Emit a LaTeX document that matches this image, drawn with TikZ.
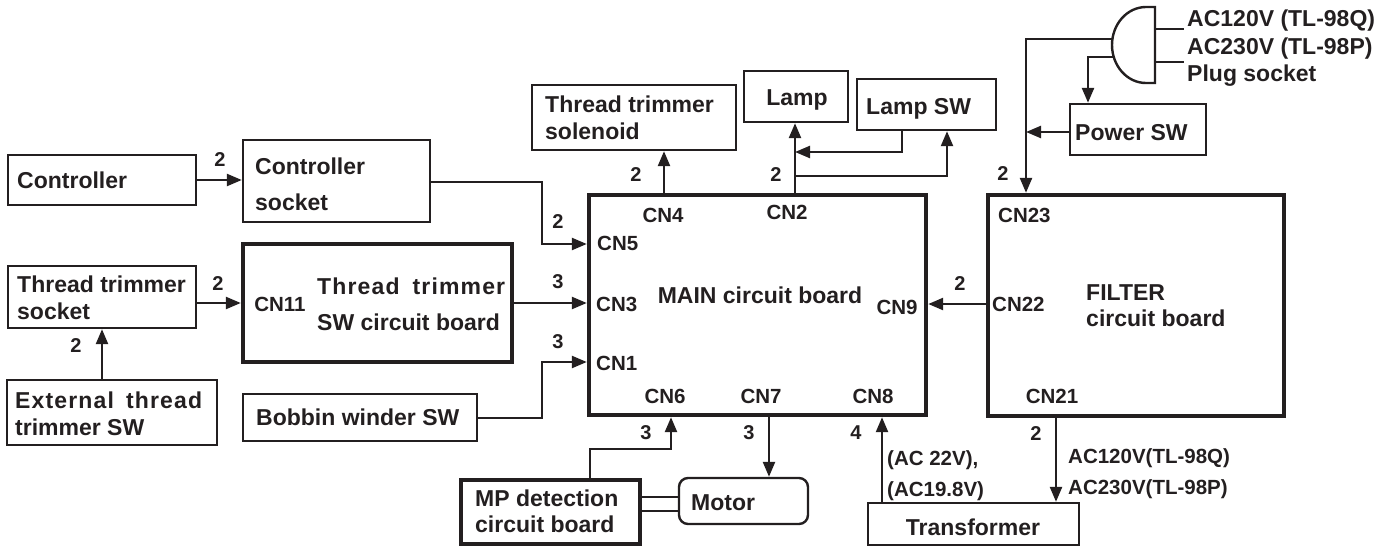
\documentclass[tikz,border=0pt]{standalone}
\usepackage{fontspec}
\setmainfont{Liberation Sans}
\usetikzlibrary{arrows.meta}
\definecolor{ink}{HTML}{231F20}
\begin{document}
\begin{tikzpicture}[x=1pt,y=-1pt,
  every node/.style={text=ink},
  box/.style={draw=ink, line width=2.4pt, inner sep=0pt},
  thick box/.style={draw=ink, line width=4.4pt, inner sep=0pt},
  lbl/.style={font=\bfseries\fontsize{23}{27}\selectfont, inner sep=0pt, text height=16.5pt, text depth=0pt},
  cn/.style={font=\bfseries\fontsize{20.5}{24}\selectfont, inner sep=0pt, text height=14.7pt, text depth=0pt},
  num/.style={font=\bfseries\fontsize{20}{24}\selectfont, inner sep=0pt, text height=14.3pt, text depth=0pt},
  wire/.style={draw=ink, line width=2.4pt},
  arr/.style={wire, -{Triangle[length=15pt,width=12pt]}}
]
\useasboundingbox (0,0) rectangle (1396,547);
\newcommand{\bx}[6]{\node[#1, minimum width=#4-#2, minimum height=#5-#3] (#6) at ({(#2+#4)/2},{(#3+#5)/2}) {};}
% thin boxes
\bx{box}{8}{155}{196}{205}{ctrl}
\bx{box}{243}{140}{430}{222}{ctrlsock}
\bx{box}{532}{85}{736}{150}{ttsol}
\bx{box}{744}{71}{848}{122}{lamp}
\bx{box}{857}{79}{996}{130}{lampsw}
\bx{box}{1070}{104}{1206}{155}{pwrsw}
\bx{box}{8}{266}{196}{328}{ttsock}
\bx{box}{7}{380}{217}{445}{ext}
\bx{box}{243}{394}{477}{441}{bobbin}
\bx{box}{868}{503}{1079}{545}{transf}
\node[box, rounded corners=9pt, minimum width=129, minimum height=46] (motor) at (743.5,501) {};
% thick boxes
\bx{thick box}{589}{195}{926}{415}{main}
\bx{thick box}{988}{195}{1284}{416}{filter}
\bx{thick box}{243}{244}{512}{362}{ttsw}
\bx{thick box}{461}{480}{640}{544}{mp}
% plug socket
\draw[draw=ink, line width=2.4pt] (1155,7) -- (1146,7) arc[start angle=90, end angle=270, x radius=34pt, y radius=38pt] -- (1155,83) -- cycle;
\coordinate (plugA) at (1113,39);
\coordinate (plugB) at (1114,57);
\coordinate (plugR1) at (1155,29);
\coordinate (plugR2) at (1155,62);
\coordinate (plugT1) at (1184,29);
\coordinate (plugT2) at (1184,62);
\draw[wire] (plugR1) -- (plugT1);
\draw[wire] (plugR2) -- (plugT2);

% texts
\node[lbl, anchor=west] (t1) at (17,180) {Controller};
\node[lbl, anchor=west] (t2) at (255,166) {Controller};
\node[lbl, anchor=west] (t3) at (255,202) {socket};
\node[lbl, anchor=west] (t4) at (17,284) {Thread trimmer};
\node[lbl, anchor=west] (t5) at (17,311) {socket};
\node[lbl, anchor=west] (t6) at (15,400) {\makebox[187pt][s]{\addfontfeature{LetterSpace=5}External thread}};
\node[lbl, anchor=west] (t7) at (15,427) {trimmer SW};
\node[cn] (t8) at (280,304) {CN11};
\node[lbl, anchor=west] (t9) at (317,286) {\makebox[188pt][s]{\addfontfeature{LetterSpace=5}Thread trimmer}};
\node[lbl, anchor=west] (t10) at (317,322) {SW circuit board};
\node[lbl, anchor=west] (t11) at (256,417) {Bobbin winder SW};
\node[lbl, anchor=west] (t12) at (475,498) {MP detection};
\node[lbl, anchor=west] (t13) at (475,524) {circuit board};
\node[lbl, anchor=west] (t14) at (691,502) {Motor};
\node[lbl] (t15) at (973,527) {Transformer};
\node[lbl, anchor=west] (t16) at (545,104) {Thread trimmer};
\node[lbl, anchor=west] (t17) at (545,131) {solenoid};
\node[lbl] (t18) at (797,97) {Lamp};
\node[lbl, anchor=west] (t19) at (866,106) {Lamp SW};
\node[lbl, anchor=west] (t20) at (1075,132) {Power SW};
\node[lbl, anchor=west] (t21) at (1187,18) {AC120V (TL-98Q)};
\node[lbl, anchor=west] (t22) at (1187,46) {AC230V (TL-98P)};
\node[lbl, anchor=west] (t23) at (1187,73) {Plug socket};
\node[lbl] (t24) at (760,295) {MAIN circuit board};
\node[cn] (c4) at (663,215) {CN4};
\node[cn] (c2) at (787,212) {CN2};
\node[cn, anchor=west] (c5) at (597,243) {CN5};
\node[cn, anchor=west] (c3) at (596,304) {CN3};
\node[cn, anchor=west] (c1) at (596,363) {CN1};
\node[cn] (c6) at (665,396) {CN6};
\node[cn] (c7) at (761,396) {CN7};
\node[cn] (c8) at (873,396) {CN8};
\node[cn] (c9) at (897,307) {CN9};
\node[cn, anchor=west] (c23) at (998,215) {CN23};
\node[cn, anchor=west] (c22) at (992,304) {CN22};
\node[lbl, anchor=west] (t25) at (1086,292) {FILTER};
\node[lbl, anchor=west] (t26) at (1086,318) {circuit board};
\node[cn] (c21) at (1052,396) {CN21};
\node[cn, anchor=west] (t27) at (1068,456) {AC120V(TL-98Q)};
\node[cn, anchor=west] (t28) at (1068,487) {AC230V(TL-98P)};
\node[cn, anchor=west] (t29) at (887,458) {(AC 22V),};
\node[cn, anchor=west] (t30) at (887,489) {(AC19.8V)};
% numbers
\node[num] (n1) at (220,159) {2};
\node[num] (n2) at (558,221) {2};
\node[num] (n3) at (218,283) {2};
\node[num] (n4) at (76,345) {2};
\node[num] (n5) at (558,281) {3};
\node[num] (n6) at (558,341) {3};
\node[num] (n7) at (636,174) {2};
\node[num] (n8) at (776,174) {2};
\node[num] (n9) at (1003,173) {2};
\node[num] (n10) at (960,283) {2};
\node[num] (n11) at (1036,433) {2};
\node[num] (n12) at (856,432) {4};
\node[num] (n13) at (749,432) {3};
\node[num] (n14) at (646,432) {3};

% connectors
\draw[arr] (ctrl.east) -- (ctrlsock.west |- ctrl.east);
\draw[arr] (ctrlsock.east |- 0,182) -- (542,182) -- (542,244) -- (main.west |- 0,244);
\draw[arr] (ttsock.east |- 0,303) -- (ttsw.west |- 0,303);
\draw[arr] (ext.north -| 102,0) -- (ttsock.south -| 102,0);
\draw[arr] (ttsw.east |- 0,303) -- (main.west |- 0,303);
\draw[arr] (bobbin.east |- 0,418) -- (542,418) -- (542,362) -- (main.west |- 0,362);
\draw[arr] (main.north -| 664,0) -- (ttsol.south -| 664,0);
\draw[arr] (main.north -| 795,0) -- (lamp.south -| 795,0);
\coordinate (br) at (795,176);
\draw[arr] (br) -- (947,176) -- (lampsw.south -| 947,0);
\coordinate (lj) at (795,152);
\draw[arr] (lampsw.south -| 902,0) -- (902,152) -- (lj);
\draw[arr] (plugA) -- (1026,39) -- (filter.north -| 1026,0);
\draw[arr] (plugB) -- (1088,57) -- (pwrsw.north -| 1088,0);
\coordinate (pj) at (1026,132);
\draw[arr] (pwrsw.west |- 0,132) -- (pj);
\draw[arr] (filter.west |- 0,304) -- (main.east |- 0,304);
\draw[arr] (filter.south -| 1056,0) -- (transf.north -| 1056,0);
\draw[arr] (transf.north -| 882,0) -- (main.south -| 882,0);
\draw[arr] (main.south -| 769,0) -- (motor.north -| 769,0);
\draw[arr] (mp.north -| 590,0) -- (590,449) -- (671,449) -- (main.south -| 671,0);
\draw[wire] (mp.east |- 0,497) -- (motor.west |- 0,497);
\draw[wire] (mp.east |- 0,511) -- (motor.west |- 0,511);
\end{tikzpicture}
\end{document}
